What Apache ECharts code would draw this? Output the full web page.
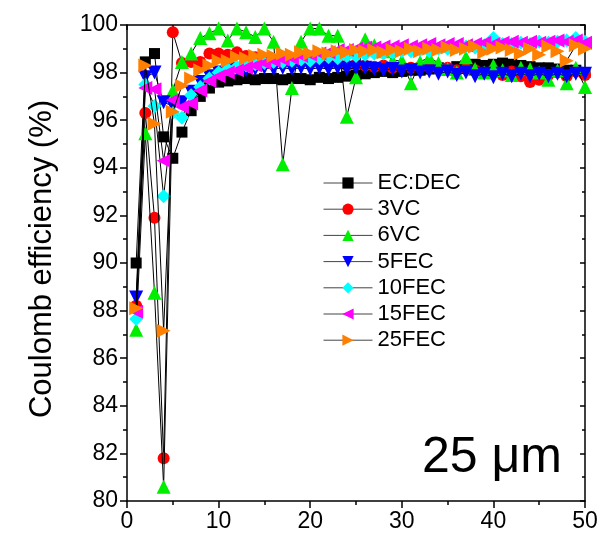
<!DOCTYPE html>
<html><head><meta charset="utf-8">
<script src="https://cdn.jsdelivr.net/npm/echarts@6/dist/echarts.min.js"></script>
<style>html,body{margin:0;padding:0;background:#fff}#c{width:602px;height:539px}</style>
</head><body><div id="c"></div>
<script>
const cycles = Array.from({length:50},(_,i)=>i+1);
const xTicks = [0,10,20,30,40,50];
const yTicks = [80,82,84,86,88,90,92,94,96,98,100];
const seriesNames = ["EC:DEC","3VC","6VC","5FEC","10FEC","15FEC","25FEC"];
const ecdec = [90.0,98.45,98.8,95.3,94.4,95.5,96.4,97.0,97.35,97.6,97.65,97.7,97.75,97.7,97.75,97.75,97.7,97.75,97.75,97.7,97.8,97.75,97.8,97.85,97.9,97.95,98.0,98.05,98.0,98.05,98.1,98.1,98.15,98.2,98.15,98.25,98.3,98.35,98.3,98.35,98.4,98.35,98.3,98.25,98.2,98.2,98.15,98.1,98.1,98.0];
const vc3 = [88.2,96.3,91.9,81.8,99.7,98.4,98.45,98.45,98.8,98.8,98.75,98.85,98.7,98.65,98.6,98.55,98.5,98.45,98.5,98.4,98.45,98.35,98.4,98.3,98.35,98.3,98.25,98.3,98.2,98.25,98.2,98.25,98.2,98.15,98.2,98.1,98.15,98.1,98.0,98.1,97.9,98.05,97.85,97.6,97.7,97.9,98.0,97.85,98.05,97.9];
const vc6 = [87.2,95.45,88.75,80.6,97.25,98.45,98.8,99.45,99.65,99.85,99.35,99.85,99.7,99.5,99.85,99.3,94.15,97.35,99.3,99.85,99.85,99.55,99.55,96.15,97.8,99.4,99.15,98.9,98.5,98.5,97.55,98.45,98.65,98.4,98.15,98.0,98.65,98.15,98.0,98.3,98.1,97.9,98.2,98.15,98.0,97.7,98.1,97.55,98.2,97.4];
const fec5 = [88.55,97.8,98.0,96.75,96.6,96.75,97.2,97.6,97.85,98.0,98.1,98.15,98.1,98.15,98.2,98.15,98.2,98.15,98.2,98.15,98.2,98.15,98.2,98.15,98.2,98.2,98.15,98.1,98.15,98.05,98.1,98.0,98.05,97.95,98.05,97.9,98.0,97.85,97.95,97.8,97.95,97.85,97.95,97.85,97.95,97.85,97.95,97.85,97.95,97.95];
const fec10 = [87.65,97.5,96.6,92.8,96.3,96.1,97.05,97.4,97.75,98.0,98.15,98.25,98.3,98.35,98.4,98.45,98.45,98.5,98.55,98.5,98.6,98.65,98.6,98.7,98.7,98.75,98.8,98.8,98.85,98.9,98.9,98.95,98.9,99.0,99.0,99.05,99.1,99.05,99.15,99.45,99.2,99.2,99.25,99.2,99.3,99.25,99.3,99.35,99.45,99.3];
const fec15 = [87.95,97.35,97.3,94.3,96.85,96.55,96.7,97.25,97.65,97.85,98.0,98.1,98.2,98.3,98.4,98.5,98.55,98.6,98.7,98.75,98.8,98.85,98.95,98.95,99.0,99.05,99.05,99.1,99.1,99.15,99.1,99.15,99.2,99.15,99.2,99.2,99.15,99.2,99.25,99.2,99.25,99.3,99.25,99.3,99.25,99.3,99.35,99.3,99.35,99.25];
const fec25 = [88.1,98.3,95.85,87.15,96.35,97.45,97.75,98.1,98.3,98.5,98.5,98.65,98.6,98.7,98.75,98.7,98.8,98.75,98.85,98.8,98.9,98.8,98.9,98.85,98.95,98.9,98.95,98.85,98.95,98.9,99.0,98.9,99.0,98.95,99.05,98.95,99.0,99.1,98.85,99.0,99.05,98.95,98.8,99.0,98.75,99.1,98.9,98.5,99.15,99.0];

const allData = [ecdec,vc3,vc6,fec5,fec10,fec15,fec25];
const colors = ["#000000","#ff0000","#00ee00","#0000ff","#00ffff","#ff00ff","#ff8000"];
const symbols = ["rect","circle","triangle","triangle","diamond","triangle","triangle"];
const rotates = [0,0,0,180,0,90,-90];
const sizes = [11,12,14,14,14,14,14];
const FONT = '"Liberation Sans", Arial, sans-serif';

const chart = echarts.init(document.getElementById('c'), null, {renderer:'canvas'});
const series = seriesNames.map((n,i)=>({
  name:n, type:'line', data: cycles.map((c,j)=>[c, allData[i][j]]),
  symbol:symbols[i], symbolSize:sizes[i], symbolRotate:rotates[i],
  itemStyle:{color:colors[i]}, lineStyle:{color:'#000', width:1},
  showAllSymbol:true, animation:false, z:2+i
}));
const axisCommon = {
  axisLine:{show:true,onZero:false,lineStyle:{color:'#000',width:1.5}},
  splitLine:{show:false}
};
chart.setOption({
  animation:false,
  grid:{left:127,right:17,top:25,bottom:38,containLabel:false},
  xAxis:[
    Object.assign({type:'value',min:0,max:50,interval:10,position:'bottom',
      axisTick:{show:true,inside:false,length:7,lineStyle:{color:'#000',width:1.5}},
      minorTick:{show:true,splitNumber:2,length:4,lineStyle:{color:'#000',width:1.5}},
      axisLabel:{color:'#000',fontSize:23,fontFamily:FONT,margin:9,
        formatter:v=>xTicks.includes(v)?String(v):''}},axisCommon),
    Object.assign({type:'value',min:0,max:50,interval:10,position:'top',
      axisTick:{show:true,inside:true,length:5,lineStyle:{color:'#000',width:1.5}},
      minorTick:{show:true,splitNumber:2,length:3,lineStyle:{color:'#000',width:1.5}},
      axisLabel:{show:false}},axisCommon)
  ],
  yAxis:[
    Object.assign({type:'value',min:80,max:100,interval:2,position:'left',
      axisTick:{show:true,inside:false,length:7,lineStyle:{color:'#000',width:1.5}},
      minorTick:{show:true,splitNumber:2,length:4,lineStyle:{color:'#000',width:1.5}},
      axisLabel:{color:'#000',fontSize:23,fontFamily:FONT,margin:9,
        formatter:v=>yTicks.includes(v)?String(v):''}},axisCommon),
    Object.assign({type:'value',min:80,max:100,interval:2,position:'right',
      axisTick:{show:true,inside:true,length:5,lineStyle:{color:'#000',width:1.5}},
      minorTick:{show:true,splitNumber:2,length:3,lineStyle:{color:'#000',width:1.5}},
      axisLabel:{show:false}},axisCommon)
  ],
  legend:{
    data:seriesNames, orient:'vertical', left:318, top:167,
    itemWidth:49, itemHeight:14, itemGap:4.2,
    lineStyle:{color:'#444', width:1},
    textStyle:{color:'#000',fontSize:22,fontFamily:FONT,lineHeight:22},
    selectedMode:false
  },
  graphic:[
    {type:'text', x:42, y:259, rotation:Math.PI/2,
      style:{text:'Coulomb efficiency (%)', font:'31px '+FONT, fill:'#000', align:'center', verticalAlign:'middle'}},
    {type:'text', x:422, y:458,
      style:{text:'25 \u03bcm', font:'50px '+FONT, fill:'#000', align:'left', verticalAlign:'middle'}}
  ],
  series:series
});
</script></body></html>
